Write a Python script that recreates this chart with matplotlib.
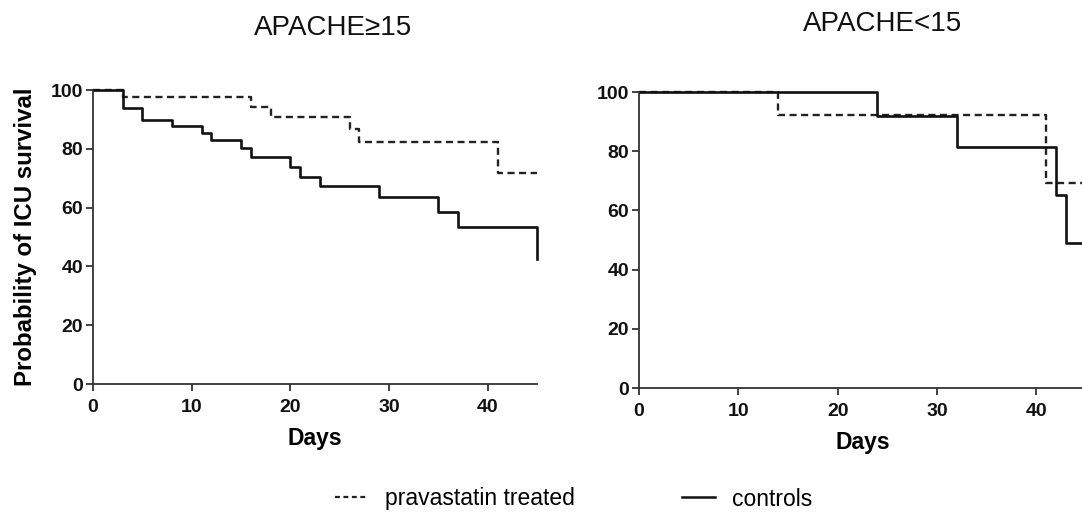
import matplotlib
matplotlib.use("Agg")
import matplotlib.pyplot as plt
from matplotlib.lines import Line2D

plt.rcParams['font.family'] = ['Liberation Sans', 'DejaVu Sans']

# ---- data ----
titles = ["APACHE\u226515", "APACHE<15"]
xticks = [0, 10, 20, 30, 40]
yticks = [0, 20, 40, 60, 80, 100]

hi_ctrl_t = [0, 3, 5, 8, 11, 12, 15, 16, 20, 21, 23, 29, 35, 37, 45]
hi_ctrl_s = [100, 93.8, 89.8, 87.8, 85.5, 83.0, 80.2, 77.3, 73.9, 70.5, 67.5, 63.5, 58.4, 53.5, 42.4]
hi_prav_t = [0, 3, 16, 18, 26, 27, 41, 45]
hi_prav_s = [100, 97.7, 94.3, 90.9, 86.6, 82.2, 71.7, 71.7]

lo_ctrl_t = [0, 24, 32, 42, 43, 45]
lo_ctrl_s = [100, 91.8, 81.5, 65.2, 48.9, 48.9]
lo_prav_t = [0, 14, 41, 45]
lo_prav_s = [100, 92.4, 69.1, 69.1]

legend_labels = ["pravastatin treated", "controls"]

fig = plt.figure(figsize=(10.82, 5.14), dpi=100)
ax1 = fig.add_axes([0.0860, 0.2529, 0.4104, 0.5720])
ax2 = fig.add_axes([0.5906, 0.2451, 0.4131, 0.5759])

dash = (0, (3.0, 1.9))
for ax, (ct, cs, pt, ps) in zip([ax1, ax2], [(hi_ctrl_t, hi_ctrl_s, hi_prav_t, hi_prav_s),
                                             (lo_ctrl_t, lo_ctrl_s, lo_prav_t, lo_prav_s)]):
    ax.plot(pt, ps, drawstyle='steps-post', color='#222222', lw=1.7, linestyle=dash, clip_on=False)
    ax.plot(ct, cs, drawstyle='steps-post', color='#111111', lw=1.9, clip_on=False)
    ax.set_xlim(0, 45)
    ax.set_ylim(0, 100)
    ax.set_xticks(xticks)
    ax.set_yticks(yticks)
    for s in ['top', 'right']:
        ax.spines[s].set_visible(False)
    for s in ['left', 'bottom']:
        ax.spines[s].set_linewidth(1.3)
        ax.spines[s].set_color('#333333')
    ax.tick_params(direction='out', length=5, width=1.3, color='#333333', pad=2)
    ax.tick_params(axis='x', pad=6)
    for lab in ax.get_xticklabels() + ax.get_yticklabels():
        lab.set_fontsize(14)
        lab.set_fontweight('bold')
        lab.set_color('#111111')
    ax.set_xlabel("Days", fontsize=16.5, fontweight='bold', labelpad=8)

ax1.set_ylabel("Probability of ICU survival", fontsize=17.3, fontweight='bold', labelpad=10)

fig.text(333 / 1082, 1 - 28 / 514, titles[0], ha='center', va='center', fontsize=20, color='#111111')
fig.text(883 / 1082, 1 - 24 / 514, titles[1], ha='center', va='center', fontsize=20, color='#111111')

handles = [Line2D([], [], color='#222222', lw=1.6, linestyle=(0, (2.2, 1.6))),
           Line2D([], [], color='#111111', lw=1.8)]
fig.legend(handles, legend_labels, loc='center left', bbox_to_anchor=(335 / 1082, 1 - 499 / 514),
           ncol=2, frameon=False, fontsize=16.5, handlelength=1.44, handletextpad=0.74,
           columnspacing=4.67, borderaxespad=0, borderpad=0)

fig.savefig("out.png", dpi=100)
